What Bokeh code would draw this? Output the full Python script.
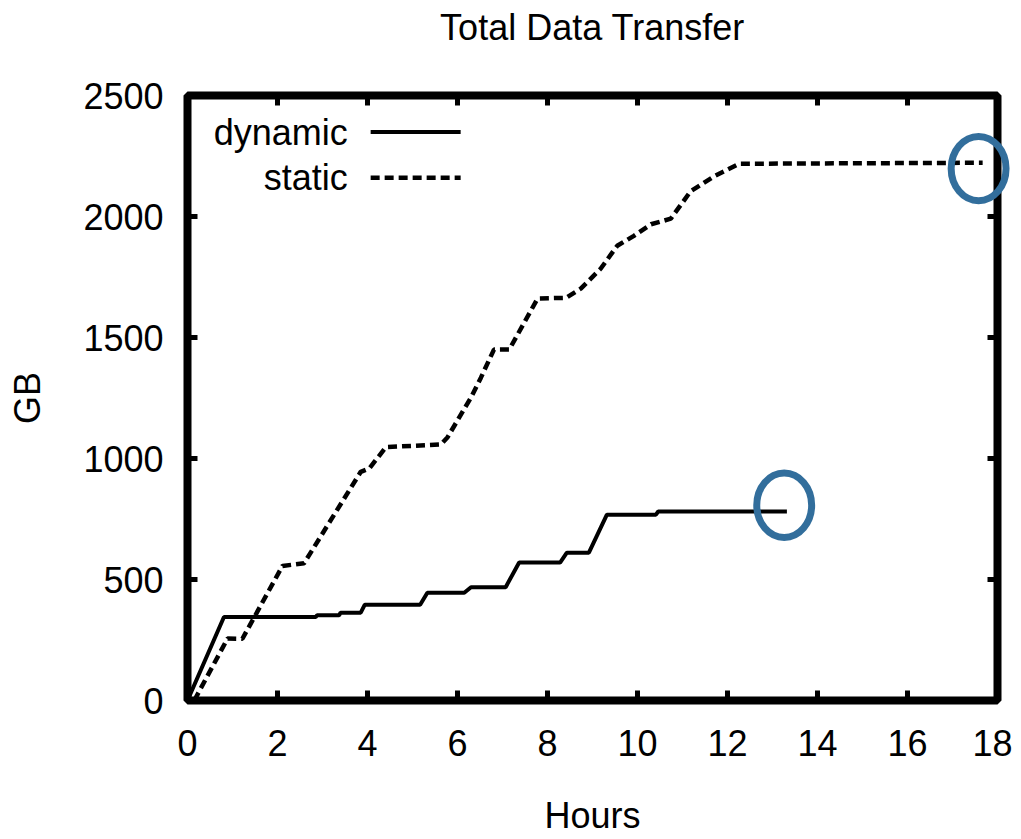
import numpy as np
from bokeh.plotting import figure
from bokeh.models import LinearAxis, FixedTicker, Range1d
from bokeh.core.properties import value
from bokeh.embed import file_html
from bokeh.resources import INLINE

# ---- data ----
dyn_hours = [0.0, 0.81, 2.85, 2.88, 3.37, 3.40, 3.85, 3.94, 5.17, 5.33, 6.15, 6.30, 7.07, 7.37, 8.28, 8.43, 8.92, 9.32, 10.41, 10.46, 13.32]
dyn_gb    = [0,   345,  345,  352,  352,  363,  363,  396,  396,  445,  445,  468,  468,  570,  570,  611,  611,  768,  768,  781,   781]

sta_hours = [0.15, 0.89, 1.22, 2.11, 2.59, 3.85, 4.04, 4.41, 5.63, 5.78, 6.30, 6.52, 6.81, 7.15, 7.78, 8.41, 8.74, 9.18, 9.55, 9.92, 10.30, 10.74, 11.18, 11.70, 12.26, 17.67]
sta_gb    = [0,    256,  255,  556,  567,  945,  959,  1047, 1058, 1088, 1252, 1334, 1450, 1450, 1661, 1664, 1702, 1784, 1879, 1920, 1968,  1991,  2104,  2166,  2218,  2222]

series_names = ["dynamic", "static"]
x_ticks = [0, 2, 4, 6, 8, 10, 12, 14, 16, 18]
y_ticks = [0, 500, 1000, 1500, 2000, 2500]
title_text = "Total Data Transfer"

# highlight ellipses (end points of each series)
mark_x = [17.58, 13.26]
mark_y = [2198, 807]
mark_w = [1.22, 1.22]
mark_h = [266, 266]

FONT = "Liberation Sans"
FS = "36px"
BLUE = "#326E9C"

p = figure(width=1012, height=838, output_backend="svg", toolbar_location=None,
           x_range=Range1d(0, 18), y_range=Range1d(0, 2500),
           min_border_left=187, min_border_right=15, min_border_top=95, min_border_bottom=132)

p.grid.visible = False
p.outline_line_color = "black"
p.outline_line_width = 8
p.background_fill_color = "white"
p.border_fill_color = "white"

def style_axis(ax, show_labels=True, standoff=20):
    ax.axis_line_color = None
    ax.major_tick_in = 10
    ax.major_tick_out = 0
    ax.major_tick_line_width = 5
    ax.major_tick_line_color = "black"
    ax.minor_tick_line_color = None
    ax.major_label_text_font = FONT
    ax.major_label_text_color = "black"
    ax.major_label_standoff = standoff
    ax.major_label_text_font_size = FS
    if not show_labels:
        ax.major_label_overrides = {t: "" for t in ax.ticker.ticks}
        ax.major_label_text_font_size = "10px"
        ax.major_label_standoff = 0

xa = p.xaxis[0]
xa.ticker = FixedTicker(ticks=x_ticks)
style_axis(xa, True, 29)
xa.axis_label = "Hours"
xa.axis_label_text_font = FONT
xa.axis_label_text_font_size = FS
xa.axis_label_text_font_style = "normal"
xa.axis_label_text_color = "black"
xa.axis_label_standoff = 36

ya = p.yaxis[0]
ya.ticker = FixedTicker(ticks=y_ticks)
style_axis(ya, True, 24)
ya.axis_label = "GB"
ya.axis_label_text_font = FONT
ya.axis_label_text_font_size = FS
ya.axis_label_text_font_style = "normal"
ya.axis_label_text_color = "black"
ya.axis_label_standoff = 32

top = LinearAxis(ticker=FixedTicker(ticks=x_ticks))
style_axis(top, False)
p.add_layout(top, "above")
right = LinearAxis(ticker=FixedTicker(ticks=y_ticks))
style_axis(right, False)
p.add_layout(right, "right")

# title, placed above the frame, centred on it
t = p.text(x=[9], y=[2782], text=[title_text], text_align="center", text_baseline="middle",
           text_font=value(FONT), text_font_size=FS, text_color="black")
t.level = "overlay"

# series
p.line(dyn_hours, dyn_gb, line_color="black", line_width=4)
p.line(sta_hours, sta_gb, line_color="black", line_width=4.5, line_dash="9 5")

# legend (gnuplot style: text then sample line)
leg_y = [2349, 2160]
p.text(x=[3.56, 3.56], y=leg_y, text=series_names, text_align="right", text_baseline="middle",
       text_font=value(FONT), text_font_size=FS, text_color="black")
p.line([4.07, 6.07], [leg_y[0]] * 2, line_color="black", line_width=4)
p.line([4.07, 6.07], [leg_y[1]] * 2, line_color="black", line_width=4.5, line_dash="9 5")

# highlight ellipses
r = p.ellipse(x=mark_x, y=mark_y, width=mark_w, height=mark_h, fill_color=None,
              line_color=BLUE, line_width=7)
r.level = "overlay"

open("out.html", "w").write(file_html(p, INLINE))
